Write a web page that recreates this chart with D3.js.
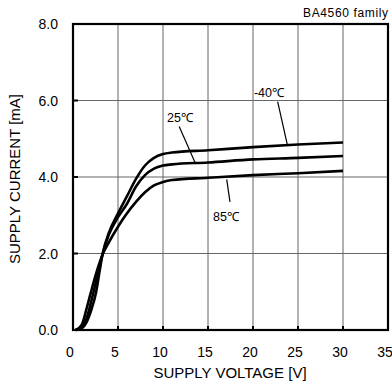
<!DOCTYPE html>
<html><head><meta charset="utf-8">
<script src="https://cdn.jsdelivr.net/npm/d3@7"></script>
<style>body{margin:0;background:#fff}svg{display:block;font-family:"Liberation Sans",Arial,sans-serif}</style>
</head><body><div id="c"></div>
<script>
const xTicks = [0,5,10,15,20,25,30,35];
const yTicks = [0,2,4,6,8];
const seriesNames = ["-40℃","25℃","85℃"];
const voltM40 = [0.3,1.0,1.5,2.0,2.55,3.0,3.3,4,5,6,7,8,9,10,11,15,20,25,30];
const currM40 = [0,0.05,0.2,0.5,0.97,1.6,2.0,2.55,3.05,3.5,3.95,4.3,4.5,4.6,4.64,4.7,4.78,4.85,4.9];
const volt25 = [0.3,1.0,1.5,2.26,2.8,3.3,4,5,6,7,8,9,10,11,15,20,25,30];
const curr25 = [0,0.08,0.3,0.97,1.5,2.0,2.5,2.95,3.3,3.75,4.05,4.22,4.3,4.33,4.38,4.46,4.5,4.55];
const volt85 = [0.3,1.0,1.5,1.97,2.6,3.3,4,5,6,7,8,9,10,11,15,20,25,30];
const curr85 = [0,0.15,0.55,0.97,1.5,1.98,2.3,2.7,3.05,3.35,3.6,3.78,3.87,3.92,3.98,4.05,4.1,4.16];

const W=392,H=389, m={l:73,r:4,t:24,b:59};
const svg=d3.select("#c").append("svg").attr("width",W).attr("height",H);
const x=d3.scaleLinear().domain([0,35]).range([m.l,W-m.r]);
const y=d3.scaleLinear().domain([0,8]).range([H-m.b,m.t]);

// grid
svg.append("g").selectAll("line").data(xTicks.slice(1,-1)).join("line")
 .attr("x1",d=>x(d)).attr("x2",d=>x(d)).attr("y1",y(0)).attr("y2",y(8))
 .attr("stroke","#666").attr("stroke-width",1);
svg.append("g").selectAll("line").data(yTicks.slice(1,-1)).join("line")
 .attr("y1",d=>y(d)).attr("y2",d=>y(d)).attr("x1",x(0)).attr("x2",x(35))
 .attr("stroke","#666").attr("stroke-width",1);
// inner ticks
svg.append("g").selectAll("line").data(yTicks.slice(1,-1)).join("line")
 .attr("y1",d=>y(d)).attr("y2",d=>y(d)).attr("x1",x(0)).attr("x2",x(0)+5)
 .attr("stroke","#000").attr("stroke-width",2);
svg.append("g").selectAll("line").data(xTicks.slice(1,-1)).join("line")
 .attr("x1",d=>x(d)).attr("x2",d=>x(d)).attr("y1",y(0)).attr("y2",y(0)-4)
 .attr("stroke","#000").attr("stroke-width",2);
// frame
svg.append("rect").attr("x",x(0)).attr("y",y(8)).attr("width",x(35)-x(0)).attr("height",y(0)-y(8))
 .attr("fill","none").attr("stroke","#000").attr("stroke-width",2.2);

// tick labels
svg.append("g").selectAll("text").data(xTicks).join("text")
 .attr("x",d=>x(d)-3).attr("y",y(0)+27).attr("text-anchor","middle")
 .attr("font-size",14).text(d=>d);
svg.append("g").selectAll("text").data(yTicks).join("text")
 .attr("x",x(0)-15).attr("y",d=>y(d)+5).attr("text-anchor","end")
 .attr("font-size",14).text(d=>d.toFixed(1));

// titles
svg.append("text").attr("x",230).attr("y",378).attr("text-anchor","middle").attr("font-size",15)
 .text("SUPPLY VOLTAGE [V]");
svg.append("text").attr("transform","translate(20,179) rotate(-90)").attr("text-anchor","middle")
 .attr("font-size",15).text("SUPPLY CURRENT [mA]");
svg.append("text").attr("x",303).attr("y",17).attr("font-size",12)
 .attr("textLength",85).text("BA4560  family");

// curves
const series=[[voltM40,currM40],[volt25,curr25],[volt85,curr85]];
const line=d3.line().x(d=>x(d[0])).y(d=>y(d[1])).curve(d3.curveMonotoneX);
svg.append("g").selectAll("path").data(series).join("path")
 .attr("d",s=>line(s[0].map((v,i)=>[v,s[1][i]])))
 .attr("fill","none").attr("stroke","#000").attr("stroke-width",2.6);

// labels with leader lines (label anchor in data units)
const labelPos=[[20.1,6.09],[10.44,5.44],[15.56,2.86]];
const leaderFrom=[[22.74,5.97],[11.8,5.32],[17.08,3.94]];
const leaderTo=[[23.8,4.86],[13.56,4.38],[17.44,3.35]];
svg.append("g").selectAll("text").data(seriesNames).join("text")
 .attr("x",(d,i)=>x(labelPos[i][0])).attr("y",(d,i)=>y(labelPos[i][1]))
 .attr("font-size",12.5).text(d=>d);
svg.append("g").selectAll("line").data(seriesNames).join("line")
 .attr("x1",(d,i)=>x(leaderFrom[i][0])).attr("y1",(d,i)=>y(leaderFrom[i][1]))
 .attr("x2",(d,i)=>x(leaderTo[i][0])).attr("y2",(d,i)=>y(leaderTo[i][1]))
 .attr("stroke","#000").attr("stroke-width",1.2);
</script></body></html>
